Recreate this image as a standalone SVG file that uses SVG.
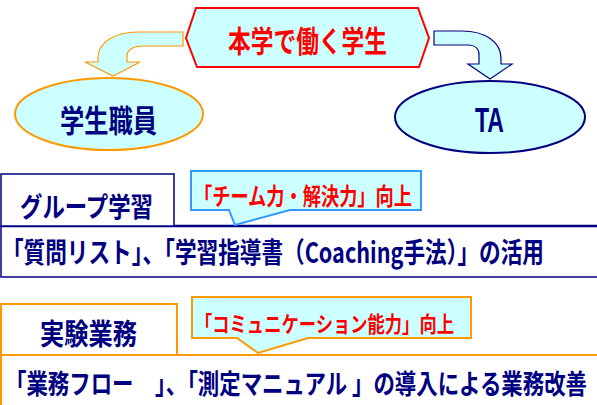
<svg xmlns="http://www.w3.org/2000/svg" width="597" height="405" viewBox="0 0 597 405">
<style>
.jp{font-family:"Noto Sans CJK JP","Noto Sans CJK SC",sans-serif;font-weight:700;}
.navy{fill:#000080;}
.red{fill:#ff0000;}
</style>
<rect width="597" height="405" fill="#ffffff"/>
<g id="connectors">
<path d="M183,32 L138,32 C115,32 98,42 98,58 L98,62 L85,62 L113,76 L140,62 L127,62 L127,56 C127,50 133,46 143,46 L183,46 Z" fill="#ccffff" stroke="#ff9900" stroke-width="1.2"/>
<path d="M434,31 L462,31 C485,31 501,42 501,58 L501,64 L512,64 L490,79 L468,64 L479,64 L479,55 C479,49 475,45 468,45 L434,45 Z" fill="#ccffff" stroke="#000080" stroke-width="1.2"/>
</g>
<g id="top">
<polygon points="186,38 196,8 418,8 429,38 419,67 197,67" fill="#ccffff" stroke="#ff0000" stroke-width="2"/>
<text class="jp red" transform="translate(228,52) scale(1,1.3)" font-size="22.7" textLength="159" lengthAdjust="spacingAndGlyphs">本学で働く学生</text>
</g>
<g id="staff">
<ellipse cx="109" cy="114" rx="94" ry="36" fill="#ccffff" stroke="#ff9900" stroke-width="2"/>
<text class="jp navy" transform="translate(60,132) scale(1,1.25)" font-size="24.2" textLength="97" lengthAdjust="spacingAndGlyphs">学生職員</text>
</g>
<g id="ta">
<ellipse cx="490" cy="117" rx="95" ry="36" fill="#ccffff" stroke="#000080" stroke-width="2"/>
<text transform="translate(475,132) scale(1,1.6)" font-family="Liberation Sans, Arial, sans-serif" font-weight="700" font-size="22" fill="#000080" textLength="29" lengthAdjust="spacingAndGlyphs">TA</text>
</g>
<g id="group-row">
<rect x="1" y="226" width="620" height="51" fill="#ffffff" stroke="#000080" stroke-width="1.5"/>
<line x1="1" y1="226" x2="597" y2="226" stroke="#000080" stroke-width="2.5"/>
<text class="jp navy" transform="translate(2,263) scale(1,1.25)" font-size="22.5" textLength="542" lengthAdjust="spacingAndGlyphs">「質問リスト」、「学習指導書（Coaching手法）」の活用</text>
</g>
<g id="group-label">
<rect x="1" y="174" width="173" height="52" fill="#ffffff" stroke="#000080" stroke-width="1.5"/>
<text class="jp navy" transform="translate(20,217) scale(1,1.25)" font-size="22.2" textLength="133" lengthAdjust="spacingAndGlyphs">グループ学習</text>
</g>
<g id="group-callout">
<path d="M191,171 H421 V210 H290 L235,225 L229,210 H191 Z" fill="#ccffff" stroke="#3399ff" stroke-width="2"/>
<text class="jp red" transform="translate(194,205) scale(1,1.3)" font-size="18.2" textLength="218" lengthAdjust="spacingAndGlyphs">「チーム力・解決力」向上</text>
</g>
<g id="lab-row">
<rect x="1" y="355" width="620" height="70" fill="#ffffff" stroke="#ff9900" stroke-width="2"/>
<text class="jp navy" transform="translate(5,394) scale(1,1.3)" font-size="21" textLength="582" lengthAdjust="spacingAndGlyphs">「業務フロー　」、「測定マニュアル 」の導入による業務改善</text>
</g>
<g id="lab-label">
<rect x="1" y="304" width="176" height="51" fill="#ffffff" stroke="#ff9900" stroke-width="2"/>
<text class="jp navy" transform="translate(40,345) scale(1,1.2)" font-size="24.2" textLength="97" lengthAdjust="spacingAndGlyphs">実験業務</text>
</g>
<g id="lab-callout">
<path d="M192,297 H471 V338 H308 L258,353 L237,338 H192 Z" fill="#ccffff" stroke="#ff9900" stroke-width="2"/>
<text class="jp red" transform="translate(195,332) scale(1,1.25)" font-size="17.3" textLength="259" lengthAdjust="spacingAndGlyphs">「コミュニケーション能力」向上</text>
</g>
</svg>
